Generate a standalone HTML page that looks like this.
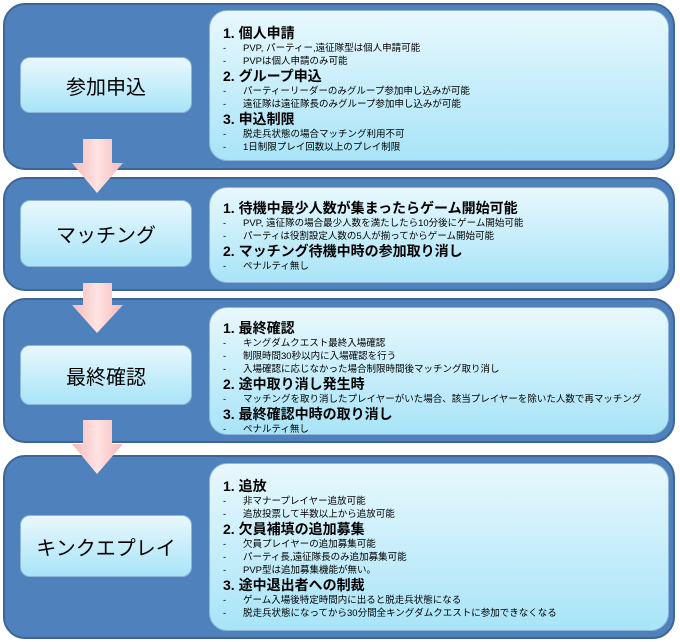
<!DOCTYPE html>
<html><head><meta charset="utf-8"><style>
body{margin:0;width:680px;height:642px;background:#fff;position:relative;overflow:hidden;font-family:"Liberation Sans","Noto Sans CJK JP",sans-serif;}
.p{position:absolute;left:3px;width:672px;background:#4f81bd;border:2px solid #3d6696;border-radius:22px;box-sizing:border-box;}
.l,.r{position:absolute;background:linear-gradient(#e8f8fd,#a8e4f8);border:1px solid #8fb6d6;border-radius:10px;box-sizing:border-box;}
.l{left:20px;width:172px;display:flex;align-items:center;justify-content:center;font-size:20px;color:#000;}
.r{left:209px;width:460px;border-radius:18px;}
.t{position:absolute;left:223px;white-space:nowrap;color:#000;}
.h{font-size:14px;font-weight:bold;}
.b{font-size:9.5px;}
.b span{display:inline-block;width:20px;}
</style></head><body>
<div class="p" style="top:3px;height:167px"></div>
<div class="p" style="top:177px;height:114px"></div>
<div class="p" style="top:298px;height:145px"></div>
<div class="p" style="top:455px;height:184px"></div>

<div class="l" style="top:57px;height:56px">参加申込</div>
<div class="l" style="top:200px;height:67px">マッチング</div>
<div class="l" style="top:345px;height:60px">最終確認</div>
<div class="l" style="top:515px;height:62px">キンクエプレイ</div>

<div class="r" style="top:10px;height:151px"></div>
<div class="r" style="top:187px;height:96px"></div>
<div class="r" style="top:307px;height:128px"></div>
<div class="r" style="top:463px;height:168px"></div>

<svg width="680" height="642" style="position:absolute;left:0;top:0">
<defs><linearGradient id="a" x1="0" x2="1"><stop offset="0" stop-color="#f7b9b9"/><stop offset="0.5" stop-color="#ffe3e3"/><stop offset="1" stop-color="#f7b9b9"/></linearGradient></defs>
<polygon points="83,139 112,139 112,163 123,163 97,193 72,163 83,163" fill="url(#a)"/>
<polygon points="83,283 112,283 112,305 123,305 97,333 72,305 83,305" fill="url(#a)"/>
<polygon points="83,420 112,420 112,444 123,444 97,474 72,444 83,444" fill="url(#a)"/>
</svg>

<div class="t h" style="top:23px">1. 個人申請</div>
<div class="t b" style="top:40px"><span>-</span>PVP, パーティー,遠征隊型は個人申請可能</div>
<div class="t b" style="top:53px"><span>-</span>PVPは個人申請のみ可能</div>
<div class="t h" style="top:66px">2. グループ申込</div>
<div class="t b" style="top:83px"><span>-</span>パーティーリーダーのみグループ参加申し込みが可能</div>
<div class="t b" style="top:96px"><span>-</span>遠征隊は遠征隊長のみグループ参加申し込みが可能</div>
<div class="t h" style="top:109px">3. 申込制限</div>
<div class="t b" style="top:126px"><span>-</span>脱走兵状態の場合マッチング利用不可</div>
<div class="t b" style="top:139px"><span>-</span>1日制限プレイ回数以上のプレイ制限</div>

<div class="t h" style="top:198px">1. 待機中最少人数が集まったらゲーム開始可能</div>
<div class="t b" style="top:215px"><span>-</span>PVP, 遠征隊の場合最少人数を満たしたら10分後にゲーム開始可能</div>
<div class="t b" style="top:228px"><span>-</span>パーティは役割設定人数の5人が揃ってからゲーム開始可能</div>
<div class="t h" style="top:241px">2. マッチング待機中時の参加取り消し</div>
<div class="t b" style="top:258px"><span>-</span>ペナルティ無し</div>

<div class="t h" style="top:318px">1. 最終確認</div>
<div class="t b" style="top:335px"><span>-</span>キングダムクエスト最終入場確認</div>
<div class="t b" style="top:348px"><span>-</span>制限時間30秒以内に入場確認を行う</div>
<div class="t b" style="top:361px"><span>-</span>入場確認に応じなかった場合制限時間後マッチング取り消し</div>
<div class="t h" style="top:374px">2. 途中取り消し発生時</div>
<div class="t b" style="top:391px"><span>-</span>マッチングを取り消したプレイヤーがいた場合、該当プレイヤーを除いた人数で再マッチング</div>
<div class="t h" style="top:404px">3. 最終確認中時の取り消し</div>
<div class="t b" style="top:421px"><span>-</span>ペナルティ無し</div>

<div class="t h" style="top:476px">1. 追放</div>
<div class="t b" style="top:493px"><span>-</span>非マナープレイヤー追放可能</div>
<div class="t b" style="top:506px"><span>-</span>追放投票して半数以上から追放可能</div>
<div class="t h" style="top:519px">2. 欠員補填の追加募集</div>
<div class="t b" style="top:536px"><span>-</span>欠員プレイヤーの追加募集可能</div>
<div class="t b" style="top:549px"><span>-</span>パーティ長,遠征隊長のみ追加募集可能</div>
<div class="t b" style="top:562px"><span>-</span>PVP型は追加募集機能が無い。</div>
<div class="t h" style="top:575px">3. 途中退出者への制裁</div>
<div class="t b" style="top:592px"><span>-</span>ゲーム入場後特定時間内に出ると脱走兵状態になる</div>
<div class="t b" style="top:605px"><span>-</span>脱走兵状態になってから30分間全キングダムクエストに参加できなくなる</div>
</body></html>
